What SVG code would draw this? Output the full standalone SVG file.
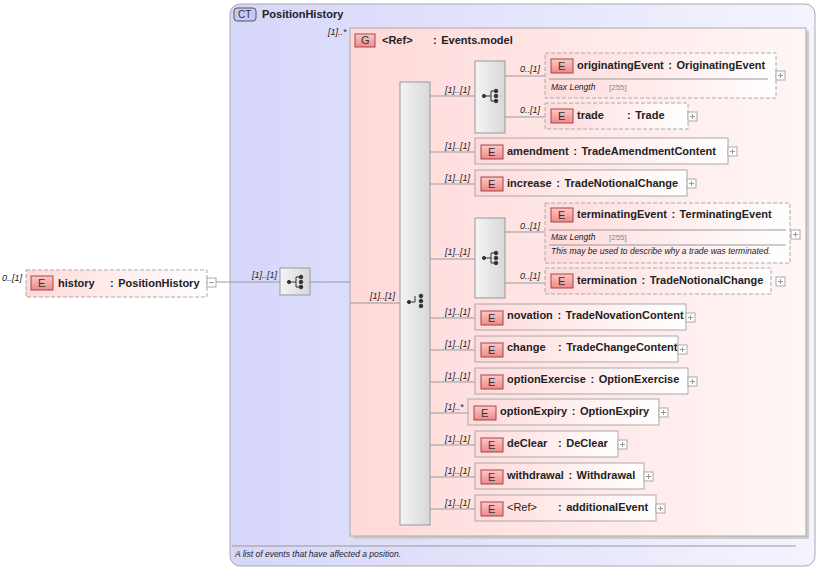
<svg xmlns="http://www.w3.org/2000/svg" width="820" height="569" viewBox="0 0 820 569">
<defs>
<linearGradient id="ct" x1="0" y1="0" x2="1" y2="0"><stop offset="0" stop-color="#d6d6fa"/><stop offset="1" stop-color="#f4f4ff"/></linearGradient>
<linearGradient id="gp" x1="0" y1="0" x2="1" y2="0"><stop offset="0" stop-color="#ffd9d9"/><stop offset="1" stop-color="#fff6f6"/></linearGradient>
<linearGradient id="el" x1="0" y1="0" x2="1" y2="0"><stop offset="0" stop-color="#ffdada"/><stop offset="1" stop-color="#ffffff"/></linearGradient>
<linearGradient id="bd" x1="0" y1="0" x2="0" y2="1"><stop offset="0" stop-color="#ffc8c8"/><stop offset="1" stop-color="#ee8888"/></linearGradient>
<linearGradient id="cb" x1="0" y1="0" x2="1" y2="0"><stop offset="0" stop-color="#f4f4f4"/><stop offset="1" stop-color="#d8d8d8"/></linearGradient>
</defs>
<style>
text{font-family:"Liberation Sans",Arial,sans-serif;fill:#222}
.n{font-size:11px;font-weight:bold;word-spacing:1.5px}
.m{font-size:9px;font-style:italic}
.s{font-size:8.5px;font-style:italic}
.g{font-size:8px;fill:#888}
.b{font-size:11px;fill:#333}
.e{fill:url(#el);stroke:#aaa;stroke-width:1}
.d{stroke-dasharray:4,2}
.bg{fill:url(#bd);stroke:#a04848;stroke-width:1}
.c{fill:url(#cb);stroke:#999}
.l{stroke:#999;fill:none}
.p{fill:#fff;stroke:#aaa}
.sh{fill:#ccc}
</style>
<g id="ctbox">
<rect x="230" y="4" width="585" height="562" rx="10" fill="url(#ct)" stroke="#aaa"/>
<rect x="234" y="8" width="22" height="13" rx="3" fill="#c8c8f4" stroke="#556"/>
<text x="238" y="18" class="b" style="font-size:10px">CT</text>
<text x="262" y="18" class="n">PositionHistory</text>
<line x1="232" y1="546" x2="796" y2="546" stroke="#999"/>
<text x="235" y="557" class="s">A list of events that have affected a position.</text>
</g>
<g id="group">
<rect x="353" y="31" width="456" height="508" class="sh"/>
<rect x="350" y="28" width="456" height="508" fill="url(#gp)" stroke="#aaa"/>
<text x="328" y="35" class="m">[1]..*</text>
<rect x="355" y="34" width="20" height="13" class="bg"/>
<text x="361" y="44" class="b">G</text>
<text x="382" y="44" class="n">&lt;Ref&gt;</text>
<text x="433" y="44" class="n">: Events.model</text>
</g>
<g id="connectors">
<line x1="216" y1="282" x2="280" y2="282" class="l"/>
<line x1="310" y1="282" x2="350" y2="282" class="l"/>
<line x1="350" y1="303" x2="400" y2="303" class="l"/>
<line x1="430" y1="96" x2="475" y2="96" class="l"/>
<line x1="505" y1="76" x2="545" y2="76" class="l"/>
<line x1="505" y1="117" x2="545" y2="117" class="l"/>
<line x1="430" y1="152" x2="475" y2="152" class="l"/>
<line x1="430" y1="184" x2="475" y2="184" class="l"/>
<line x1="430" y1="259" x2="475" y2="259" class="l"/>
<line x1="505" y1="232" x2="545" y2="232" class="l"/>
<line x1="505" y1="283" x2="545" y2="283" class="l"/>
<line x1="430" y1="318" x2="475" y2="318" class="l"/>
<line x1="430" y1="350" x2="475" y2="350" class="l"/>
<line x1="430" y1="382" x2="475" y2="382" class="l"/>
<line x1="430" y1="413" x2="468" y2="413" class="l"/>
<line x1="430" y1="445" x2="475" y2="445" class="l"/>
<line x1="430" y1="477" x2="475" y2="477" class="l"/>
<line x1="430" y1="509" x2="475" y2="509" class="l"/>
<text x="252" y="278" class="m">[1]..[1]</text>
<text x="370" y="299" class="m">[1]..[1]</text>
<text x="445" y="93" class="m">[1]..[1]</text>
<text x="520" y="72" class="m">0..[1]</text>
<text x="520" y="113" class="m">0..[1]</text>
<text x="445" y="149" class="m">[1]..[1]</text>
<text x="445" y="181" class="m">[1]..[1]</text>
<text x="445" y="255" class="m">[1]..[1]</text>
<text x="520" y="229" class="m">0..[1]</text>
<text x="520" y="279" class="m">0..[1]</text>
<text x="445" y="315" class="m">[1]..[1]</text>
<text x="445" y="347" class="m">[1]..[1]</text>
<text x="445" y="379" class="m">[1]..[1]</text>
<text x="445" y="410" class="m">[1]..*</text>
<text x="445" y="442" class="m">[1]..[1]</text>
<text x="445" y="474" class="m">[1]..[1]</text>
<text x="445" y="506" class="m">[1]..[1]</text>
</g>
<g id="seq1"><rect x="280" y="268" width="30" height="27" class="c"/>
<g fill="#333" stroke="#333"><circle cx="289" cy="282" r="1.6"/><line x1="289" y1="282" x2="296" y2="282"/><polyline points="300,277 296,277 296,287 300,287" fill="none"/><circle cx="301" cy="277" r="1.8"/><circle cx="301" cy="282" r="1.8"/><circle cx="301" cy="287" r="1.8"/></g></g>
<g id="choice"><rect x="400" y="82" width="30" height="443" class="c"/>
<g fill="#333" stroke="#333"><circle cx="409" cy="302" r="1.6"/><line x1="409" y1="302" x2="415" y2="302"/><line x1="415" y1="296" x2="415" y2="302"/><circle cx="421" cy="296" r="1.8"/><circle cx="421" cy="301" r="1.8"/><circle cx="421" cy="306" r="1.8"/></g></g>
<g id="seq2"><rect x="475" y="61" width="30" height="72" class="c"/>
<g fill="#333" stroke="#333"><circle cx="484" cy="96" r="1.6"/><line x1="484" y1="96" x2="491" y2="96"/><polyline points="495,91 491,91 491,101 495,101" fill="none"/><circle cx="496" cy="91" r="1.8"/><circle cx="496" cy="96" r="1.8"/><circle cx="496" cy="101" r="1.8"/></g></g>
<g id="seq3"><rect x="475" y="218" width="30" height="80" class="c"/>
<g fill="#333" stroke="#333"><circle cx="484" cy="258" r="1.6"/><line x1="484" y1="258" x2="491" y2="258"/><polyline points="495,253 491,253 491,263 495,263" fill="none"/><circle cx="496" cy="253" r="1.8"/><circle cx="496" cy="258" r="1.8"/><circle cx="496" cy="263" r="1.8"/></g></g>
<g id="history"><rect x="26" y="270" width="181" height="27" class="e d"/><rect x="31" y="276" width="22" height="14" class="bg"/><text x="38" y="287" class="b">E</text>
<text x="58" y="287" class="n">history</text><text x="110" y="287" class="n">: PositionHistory</text><text x="2" y="281" class="m">0..[1]</text>
<rect x="207" y="278" width="9" height="9" class="p"/><line x1="209" y1="282.5" x2="214" y2="282.5" stroke="#999"/></g>
<g id="originatingEvent"><rect x="545" y="53" width="231" height="45" class="e d"/><rect x="551" y="59" width="22" height="14" class="bg"/><text x="558" y="70" class="b">E</text>
<text x="577" y="69" class="n">originatingEvent : OriginatingEvent</text><line x1="549" y1="79" x2="768" y2="79" stroke="#999"/>
<text x="551" y="90" class="s">Max Length</text><text x="609" y="90" class="g">[255]</text>
<rect x="776" y="71" width="9" height="9" class="p"/><path d="M778 75.5h5M780.5 73v5" stroke="#999"/></g>
<g id="trade"><rect x="545" y="103" width="143" height="26" class="e d"/><rect x="551" y="109" width="22" height="14" class="bg"/><text x="558" y="120" class="b">E</text>
<text x="577" y="119" class="n">trade</text><text x="627" y="119" class="n">: Trade</text>
<rect x="688" y="112" width="9" height="9" class="p"/><path d="M690 116.5h5M692.5 114v5" stroke="#999"/></g>
<g id="amendment"><rect x="475" y="138" width="253" height="26" class="e"/><rect x="481" y="145" width="22" height="14" class="bg"/><text x="488" y="156" class="b">E</text>
<text x="507" y="155" class="n">amendment : TradeAmendmentContent</text>
<rect x="728" y="147" width="9" height="9" class="p"/><path d="M730 151.5h5M732.5 149v5" stroke="#999"/></g>
<g id="increase"><rect x="475" y="170" width="212" height="26" class="e"/><rect x="481" y="177" width="22" height="14" class="bg"/><text x="488" y="188" class="b">E</text>
<text x="507" y="187" class="n">increase : TradeNotionalChange</text>
<rect x="687" y="179" width="9" height="9" class="p"/><path d="M689 183.5h5M691.5 181v5" stroke="#999"/></g>
<g id="terminatingEvent"><rect x="545" y="203" width="245" height="60" class="e d"/><rect x="551" y="208" width="22" height="14" class="bg"/><text x="558" y="219" class="b">E</text>
<text x="577" y="218" class="n">terminatingEvent : TerminatingEvent</text><line x1="549" y1="230" x2="786" y2="230" stroke="#999"/>
<text x="551" y="240" class="s">Max Length</text><text x="609" y="240" class="g">[255]</text><line x1="549" y1="245" x2="786" y2="245" stroke="#999"/>
<text x="551" y="254" class="s">This may be used to describe why a trade was terminated.</text>
<rect x="791" y="230" width="9" height="9" class="p"/><path d="M793 234.5h5M795.5 232v5" stroke="#999"/></g>
<g id="termination"><rect x="545" y="268" width="226" height="26" class="e d"/><rect x="551" y="274" width="22" height="14" class="bg"/><text x="558" y="285" class="b">E</text>
<text x="577" y="284" class="n">termination : TradeNotionalChange</text>
<rect x="776" y="277" width="9" height="9" class="p"/><path d="M778 281.5h5M780.5 279v5" stroke="#999"/></g>
<g id="novation"><rect x="475" y="304" width="211" height="26" class="e"/><rect x="481" y="311" width="22" height="14" class="bg"/><text x="488" y="322" class="b">E</text>
<text x="507" y="319" class="n">novation : TradeNovationContent</text>
<rect x="686" y="313" width="9" height="9" class="p"/><path d="M688 317.5h5M690.5 315v5" stroke="#999"/></g>
<g id="change"><rect x="475" y="336" width="203" height="26" class="e"/><rect x="481" y="343" width="22" height="14" class="bg"/><text x="488" y="354" class="b">E</text>
<text x="507" y="351" class="n">change</text><text x="558" y="351" class="n">: TradeChangeContent</text>
<rect x="678" y="345" width="9" height="9" class="p"/><path d="M680 349.5h5M682.5 347v5" stroke="#999"/></g>
<g id="optionExercise"><rect x="475" y="368" width="213" height="26" class="e"/><rect x="481" y="375" width="22" height="14" class="bg"/><text x="488" y="386" class="b">E</text>
<text x="507" y="383" class="n">optionExercise : OptionExercise</text>
<rect x="688" y="377" width="9" height="9" class="p"/><path d="M690 381.5h5M692.5 379v5" stroke="#999"/></g>
<g id="optionExpiry"><rect x="468" y="399" width="191" height="26" class="e"/><rect x="474" y="406" width="22" height="14" class="bg"/><text x="481" y="417" class="b">E</text>
<text x="500" y="415" class="n">optionExpiry : OptionExpiry</text>
<rect x="659" y="408" width="9" height="9" class="p"/><path d="M661 412.5h5M663.5 410v5" stroke="#999"/></g>
<g id="deClear"><rect x="475" y="431" width="143" height="26" class="e"/><rect x="481" y="438" width="22" height="14" class="bg"/><text x="488" y="449" class="b">E</text>
<text x="507" y="447" class="n">deClear</text><text x="558" y="447" class="n">: DeClear</text>
<rect x="618" y="440" width="9" height="9" class="p"/><path d="M620 444.5h5M622.5 442v5" stroke="#999"/></g>
<g id="withdrawal"><rect x="475" y="463" width="169" height="26" class="e"/><rect x="481" y="470" width="22" height="14" class="bg"/><text x="488" y="481" class="b">E</text>
<text x="507" y="479" class="n">withdrawal : Withdrawal</text>
<rect x="644" y="472" width="9" height="9" class="p"/><path d="M646 476.5h5M648.5 474v5" stroke="#999"/></g>
<g id="additionalEvent"><rect x="475" y="495" width="181" height="26" class="e"/><rect x="481" y="502" width="22" height="14" class="bg"/><text x="488" y="513" class="b">E</text>
<text x="507" y="511" class="n" style="font-weight:normal">&lt;Ref&gt;</text><text x="558" y="511" class="n">: additionalEvent</text>
<rect x="656" y="504" width="9" height="9" class="p"/><path d="M658 508.5h5M660.5 506v5" stroke="#999"/></g>
</svg>
